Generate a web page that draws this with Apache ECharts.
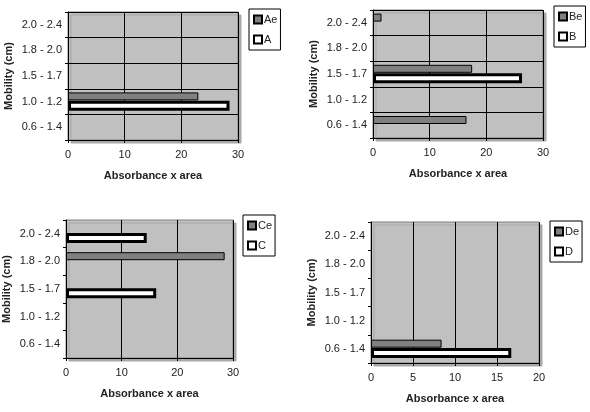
<!DOCTYPE html>
<html><head><meta charset="utf-8">
<script src="https://cdn.jsdelivr.net/npm/echarts@6/dist/echarts.min.js"></script>
<style>html,body{margin:0;padding:0;background:#fff}#c{width:590px;height:412px}</style>
</head><body><div id="c"></div>
<script>
// categories (bottom to top)
const categories = ["0.6 - 1.4", "1.0 - 1.2", "1.5 - 1.7", "1.8 - 2.0", "2.0 - 2.4"];
// panel values, aligned with categories ('-' = no bar)
const Ae = ['-', 23, '-', '-', '-'];
const A  = ['-', 28.5, '-', '-', '-'];
const Be = [16.5, '-', 17.5, '-', 1.5];
const B  = ['-', '-', 26.3, '-', '-'];
const Ce = ['-', '-', '-', 28.5, '-'];
const C  = ['-', '-', 16.2, '-', 14.5];
const De = [8.4, '-', '-', '-', '-'];
const D  = [16.7, '-', '-', '-', '-'];
const xMaxes = [30, 30, 30, 20];
const xIntervals = [10, 10, 10, 5];

const panels = [
  {names: ['Ae', 'A'], data: [Ae, A], grid: {left: 68, top: 12, width: 170, height: 128}, legend: {left: 249, top: 9}, hLines: true, yName: 'Mobility (cm)'},
  {names: ['Be', 'B'], data: [Be, B], grid: {left: 373, top: 10, width: 170, height: 128}, legend: {left: 554, top: 6}, hLines: true, yName: 'Mobility (cm)'},
  {names: ['Ce', 'C'], data: [Ce, C], grid: {left: 65, top: 220, width: 168, height: 138}, legend: {left: 243, top: 215}, hLines: false, yName: 'Mobility (cm)'},
  {names: ['De', 'D'], data: [De, D], grid: {left: 371, top: 222, width: 168, height: 141}, legend: {left: 550, top: 221}, hLines: false, yName: 'Mobility (cm)'}
];

const txt = {color: '#222', fontFamily: 'Liberation Sans, Arial', fontSize: 11};
const grids = [], xAxes = [], yAxes = [], legends = [], series = [];
panels.forEach((p, i) => {
  grids.push(Object.assign({show: true, backgroundColor: '#c0c0c0', borderColor: '#808080', borderWidth: 1,
    shadowColor: '#a8a8a8', shadowOffsetX: 3, shadowOffsetY: 3, shadowBlur: 0}, p.grid));
  xAxes.push({
    type: 'value', gridIndex: i, min: 0, max: xMaxes[i], interval: xIntervals[i],
    name: 'Absorbance x area', nameLocation: 'middle', nameGap: 30,
    nameTextStyle: Object.assign({}, txt, {fontWeight: 'bold'}),
    axisLine: {show: true, lineStyle: {color: '#000'}},
    axisTick: {show: true, length: 3, lineStyle: {color: '#000'}},
    axisLabel: Object.assign({}, txt, {margin: 9}),
    splitLine: {show: true, lineStyle: {color: '#000', width: 1}}
  });
  yAxes.push({
    type: 'category', gridIndex: i, data: categories,
    name: p.yName, nameLocation: 'middle', nameGap: 54, nameRotate: 90,
    nameTextStyle: Object.assign({}, txt, {fontWeight: 'bold'}),
    axisLine: {show: true, lineStyle: {color: '#000'}},
    axisTick: {show: true, length: 3, lineStyle: {color: '#000'}},
    axisLabel: Object.assign({}, txt, {margin: 6}),
    splitLine: {show: p.hLines, lineStyle: {color: '#000', width: 1}}
  });
  legends.push({
    orient: 'vertical', left: p.legend.left, top: p.legend.top,
    data: p.names, icon: 'rect', itemWidth: 8, itemHeight: 8, itemGap: 9,
    backgroundColor: '#fff', borderColor: '#000', borderWidth: 1, padding: [5, 3, 5, 4],
    textStyle: Object.assign({}, txt, {fontSize: 11, padding: [0, 0, 0, -3]})
  });
  p.names.forEach((n, k) => {
    const gray = k === 0;
    series.push({
      type: 'bar', name: n, xAxisIndex: i, yAxisIndex: i, data: p.data[k],
      barWidth: gray ? 8 : 10, barGap: '5%',
      itemStyle: gray
        ? {color: '#808080', borderColor: '#000', borderWidth: 1}
        : {color: '#fff', borderColor: '#000', borderWidth: 3}
    });
  });
});

const chart = echarts.init(document.getElementById('c'), null, {renderer: 'canvas'});
chart.setOption({animation: false, grid: grids, xAxis: xAxes, yAxis: yAxes, legend: legends, series: series});
</script></body></html>
